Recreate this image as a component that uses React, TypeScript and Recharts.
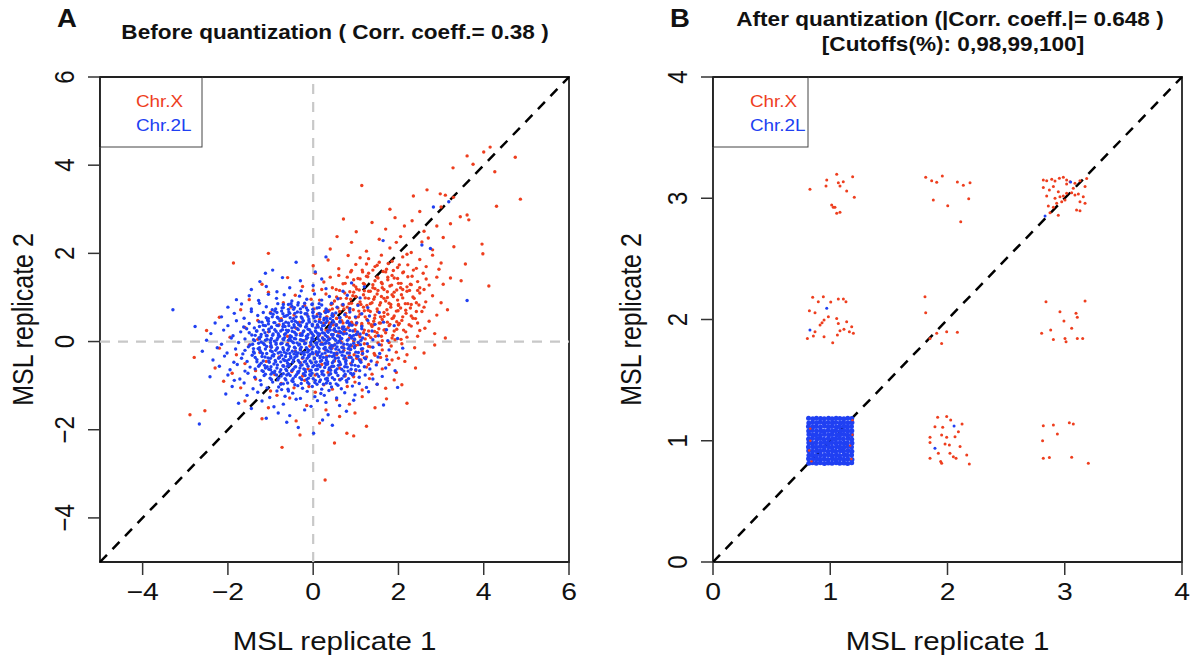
import React from "react";
import {
  ScatterChart,
  Scatter,
  XAxis,
  YAxis,
  ReferenceLine,
  ReferenceArea,
} from "recharts";

const RED = "#EE3E1E";
const BLUE = "#2040F2";
const FONT = '"Liberation Sans", Arial, Helvetica, sans-serif';
// the source figure is stretched sideways, so text is too
const STRETCH = 1.18;

const domainA: [number, number] = [-5, 6];
const ticksA = [-4, -2, 0, 2, 4, 6];
const domainB: [number, number] = [0, 4];
const ticksB = [0, 1, 2, 3, 4];

// Panel A, before quantization: MSL rep1, rep2 as flat x,y pairs
const chrXBefore = [
  -0.73, -2.4, 0.79, -2.08, 0.95, -2.14, -0.31, -2.12, 0.5, -2.3, 0.28, -3.14,
  -2.89, -1.66, -2.54, -1.57, -1.2, -1.75, 0.15, -1.85, 0.62, -1.7, 1.25, -1.92, -0.4, -1.8, 0.98, -1.62,
  -1.6, -1.35, -1.05, -1.5, -0.55, -1.28, -0.15, -1.45, 0.3, -1.55, 0.55, -1.32, 0.85, -1.42, 1.15, -1.25,
  1.45, -1.5, 1.72, -1.3, -0.85, -1.22, 2.2, -1.4,
  -2.1, -0.9, -1.7, -1.05, -1.35, -0.85, -1.0, -1.12, -0.75, -0.95, -0.45, -1.05, -0.2, -0.88, 0.05, -1.15,
  0.25, -0.98, 0.45, -1.08, 0.62, -0.86, 0.8, -1.02, 0.98, -0.92, 1.15, -1.1, 1.32, -0.84, 1.5, -0.97,
  1.7, -1.06, 2.08, -0.98, 1.9, -0.87, -0.1, -1.02,
  -2.3, -0.6, -1.9, -0.72, -1.6, -0.5, -1.35, -0.66, -1.1, -0.45, -0.9, -0.75, -0.7, -0.55, -0.5, -0.68,
  -0.3, -0.48, -0.12, -0.62, 0.05, -0.76, 0.2, -0.52, 0.35, -0.7, 0.5, -0.44, 0.62, -0.6, 0.75, -0.78,
  0.88, -0.5, 1.0, -0.66, 1.12, -0.42, 1.25, -0.58, 1.38, -0.74, 1.5, -0.47, 1.62, -0.62, 1.78, -0.52,
  1.95, -0.7, 2.15, -0.45, 2.4, -0.6, 0.42, -0.58, 0.95, -0.8, 1.3, -0.52, -0.25, -0.78, 1.85, -0.42,
  -2.79, -0.36, -2.2, -0.15, -1.8, -0.3, -1.5, -0.08, -1.25, -0.25, -1.0, -0.12, -0.8, -0.35, -0.6, -0.05,
  -0.42, -0.22, -0.25, -0.38, -0.08, -0.1, 0.08, -0.28, 0.2, -0.04, 0.32, -0.33, 0.44, -0.15, 0.55, -0.26,
  0.66, -0.02, 0.76, -0.38, 0.86, -0.18, 0.96, -0.3, 1.06, -0.07, 1.15, -0.22, 1.25, -0.35, 1.34, -0.12,
  1.43, -0.27, 1.52, -0.03, 1.62, -0.19, 1.72, -0.33, 1.83, -0.1, 1.95, -0.24, 2.08, -0.05, 2.2, -0.3,
  2.38, -0.14, 2.6, -0.26, 2.85, -0.08, 0.5, -0.08, 0.9, -0.1, 1.2, -0.05, 1.58, -0.36, 0.28, -0.18,
  0.72, -0.2, 1.02, -0.38, 1.78, -0.02, 2.0, -0.38, -0.3, -0.18,
  -2.5, 0.25, -1.95, 0.1, -1.6, 0.32, -1.3, 0.05, -1.05, 0.22, -0.8, 0.38, -0.6, 0.12, -0.4, 0.3,
  -0.22, 0.02, -0.05, 0.2, 0.1, 0.36, 0.22, 0.08, 0.34, 0.26, 0.45, 0.14, 0.55, 0.38, 0.64, 0.04,
  0.73, 0.22, 0.82, 0.32, 0.9, 0.1, 0.98, 0.27, 1.06, 0.16, 1.14, 0.37, 1.22, 0.06, 1.3, 0.24,
  1.38, 0.34, 1.46, 0.12, 1.54, 0.29, 1.62, 0.02, 1.7, 0.2, 1.78, 0.36, 1.87, 0.14, 1.96, 0.28,
  2.06, 0.05, 2.17, 0.22, 2.3, 0.35, 2.45, 0.12, 2.62, 0.3, 2.85, 0.18, 3.1, 0.08, 0.4, 0.34,
  0.68, 0.3, 0.95, 0.02, 1.18, 0.2, 1.42, 0.38, 1.66, 0.26, 1.92, 0.04, 2.2, 0.1, 0.15, 0.15,
  -0.3, 0.18, 1.0, 0.38, 1.5, 0.2, 0.6, 0.2, 2.0, 0.38, 2.5, 0.25, 1.3, 0.14,
  -2.2, 0.55, -1.7, 0.72, -1.3, 0.48, -1.0, 0.66, -0.75, 0.52, -0.52, 0.78, -0.32, 0.44, -0.15, 0.62,
  0.02, 0.74, 0.15, 0.5, 0.27, 0.68, 0.38, 0.42, 0.48, 0.6, 0.58, 0.76, 0.67, 0.47, 0.76, 0.64,
  0.85, 0.54, 0.94, 0.72, 1.02, 0.43, 1.1, 0.62, 1.18, 0.78, 1.26, 0.5, 1.34, 0.68, 1.42, 0.46,
  1.5, 0.74, 1.58, 0.56, 1.66, 0.66, 1.74, 0.44, 1.82, 0.78, 1.9, 0.58, 1.99, 0.7, 2.08, 0.48,
  2.18, 0.64, 2.28, 0.76, 2.4, 0.52, 2.55, 0.68, 2.72, 0.46, 2.9, 0.6, 3.15, 0.72, 0.32, 0.56,
  0.72, 0.74, 1.06, 0.56, 1.3, 0.42, 1.62, 0.5, 1.96, 0.45, 2.3, 0.58, 0.55, 0.52, 0.9, 0.44,
  1.45, 0.6, 1.75, 0.62, 2.05, 0.76, 0.1, 0.62, -0.45, 0.6, 1.2, 0.7, 0.8, 0.78, 2.6, 0.78,
  1.85, 0.52, 0.45, 0.74, 1.55, 0.42, 2.45, 0.42,
  -1.5, 0.95, -1.05, 1.12, -0.7, 0.88, -0.42, 1.05, -0.2, 0.82, 0.0, 1.16, 0.15, 0.94, 0.3, 1.08,
  0.42, 0.84, 0.54, 1.18, 0.64, 0.98, 0.74, 1.1, 0.84, 0.86, 0.93, 1.04, 1.02, 1.19, 1.1, 0.9,
  1.18, 1.06, 1.26, 0.82, 1.34, 1.14, 1.42, 0.96, 1.5, 1.08, 1.58, 0.88, 1.66, 1.18, 1.74, 1.0,
  1.82, 0.84, 1.9, 1.12, 1.98, 0.94, 2.07, 1.06, 2.16, 0.86, 2.26, 1.16, 2.37, 0.98, 2.5, 1.1,
  2.64, 0.9, 2.8, 1.04, 3.0, 0.88, 0.5, 0.92, 0.88, 0.96, 1.3, 0.98, 1.7, 0.92, 2.1, 1.18,
  0.2, 1.18, 1.05, 0.84, 1.45, 1.2, 1.85, 1.06, 2.3, 0.84, 0.7, 0.82, 1.2, 1.15, 1.6, 1.02,
  2.0, 0.82, 2.6, 1.18, -0.05, 0.96, 0.95, 1.12, 2.42, 0.88, 1.38, 0.88,
  -1.2, 1.3, -0.6, 1.45, -0.25, 1.25, 0.05, 1.55, 0.25, 1.35, 0.45, 1.22, 0.6, 1.5, 0.75, 1.32,
  0.88, 1.58, 1.0, 1.24, 1.1, 1.42, 1.2, 1.3, 1.3, 1.55, 1.4, 1.22, 1.5, 1.46, 1.6, 1.34,
  1.7, 1.58, 1.8, 1.26, 1.9, 1.44, 2.0, 1.32, 2.1, 1.56, 2.2, 1.24, 2.32, 1.48, 2.45, 1.36,
  2.58, 1.55, 2.72, 1.28, 2.9, 1.46, 3.22, 1.44, 3.47, 1.38, 4.12, 1.26, 0.95, 1.4, 1.45, 1.38,
  1.85, 1.5, 2.28, 1.3, 1.25, 1.48, 2.05, 1.22, 0.4, 1.46, 1.62, 1.22, 2.5, 1.22, 3.05, 1.3,
  1.75, 1.4, 2.65, 1.42,
  -1.87, 1.78, -1.05, 2.0, 0.0, 1.72, 0.35, 1.85, 0.6, 1.65, 0.82, 1.95, 1.0, 1.75, 1.15, 1.62,
  1.3, 1.88, 1.45, 1.7, 1.6, 1.96, 1.72, 1.64, 1.85, 1.82, 1.98, 1.68, 2.1, 1.92, 2.22, 1.74,
  2.35, 1.62, 2.5, 1.86, 2.65, 1.7, 2.8, 1.96, 3.0, 1.78, 3.57, 1.76, 2.2, 1.98, 1.1, 1.9,
  2.95, 1.64, 1.55, 1.8, 2.42, 1.66,
  0.56, 2.38, 0.4, 2.1, 0.9, 2.25, 1.25, 2.05, 1.55, 2.32, 1.8, 2.12, 2.05, 2.38, 2.3, 2.02,
  2.55, 2.26, 2.8, 2.08, 3.05, 2.36, 3.3, 2.15, 3.96, 2.21, 3.98, 1.99, 1.95, 2.25, 2.7, 2.35,
  1.01, 2.49, 0.71, 2.78, 1.38, 2.7, 2.14, 2.62, 1.92, 2.81, 2.32, 2.74, 2.9, 2.62, 3.22, 2.67,
  2.6, 2.5, 1.7, 2.55, 3.45, 2.83,
  3.61, 2.87, 3.65, 2.76, 1.14, 3.54, 2.35, 3.3, 2.67, 3.44, 2.98, 3.35, 3.1, 3.32, 3.29, 3.27,
  4.3, 3.07, 4.86, 3.23, 2.5, 2.95, 3.0, 3.05, 1.8, 3.0,
  3.28, 3.94, 3.75, 4.02, 4.26, 3.85, 3.61, 4.21, 4.74, 4.18, 4.15, 4.41, 4.0, 4.3,
  // dense part of the Chr.X cloud
  0.35, 0.1, 0.6, 0.12, 0.85, 0.08, 1.1, 0.11, 1.35, 0.09, 1.6, 0.12, 1.85, 0.08,
  0.3, 0.26, 0.52, 0.23, 0.76, 0.27, 0.98, 0.24, 1.2, 0.26, 1.44, 0.23, 1.68, 0.27, 1.9, 0.24, 2.12, 0.26,
  0.25, 0.41, 0.47, 0.38, 0.7, 0.42, 0.92, 0.39, 1.14, 0.41, 1.36, 0.38, 1.58, 0.42, 1.8, 0.39, 2.02, 0.41, 2.25, 0.38,
  0.32, 0.56, 0.55, 0.53, 0.78, 0.57, 1.0, 0.54, 1.22, 0.56, 1.44, 0.53, 1.66, 0.57, 1.88, 0.54, 2.1, 0.56, 2.34, 0.53,
  0.38, 0.71, 0.62, 0.68, 0.85, 0.72, 1.07, 0.69, 1.29, 0.71, 1.51, 0.68, 1.73, 0.72, 1.95, 0.69, 2.17, 0.71, 2.42, 0.68,
  0.45, 0.86, 0.68, 0.83, 0.9, 0.87, 1.12, 0.84, 1.34, 0.86, 1.56, 0.83, 1.78, 0.87, 2.0, 0.84, 2.22, 0.86, 2.48, 0.83,
  0.55, 1.01, 0.78, 0.98, 1.0, 1.02, 1.22, 0.99, 1.44, 1.01, 1.66, 0.98, 1.88, 1.02, 2.1, 0.99, 2.34, 1.01,
  0.62, 1.16, 0.86, 1.13, 1.08, 1.17, 1.3, 1.14, 1.52, 1.16, 1.74, 1.13, 1.96, 1.17, 2.2, 1.14, 2.45, 1.16,
  0.7, 1.31, 0.95, 1.28, 1.18, 1.32, 1.4, 1.29, 1.62, 1.31, 1.84, 1.28, 2.06, 1.32, 2.3, 1.29,
  0.8, 1.46, 1.05, 1.43, 1.28, 1.47, 1.52, 1.44, 1.75, 1.46, 1.98, 1.43, 2.22, 1.47,
  0.9, 1.61, 1.16, 1.58, 1.4, 1.62, 1.64, 1.59, 1.88, 1.61, 2.12, 1.58,
  1.25, 1.76, 1.5, 1.73, 1.76, 1.77, 2.02, 1.74,
  0.4, -0.1, 0.7, -0.12, 1.0, -0.09, 1.3, -0.11, 1.6, -0.08,
  0.55, -0.3, 0.85, -0.32, 1.15, -0.29, 1.45, -0.31,
];

const chr2LBefore = [
  -0.62, -1.83, 0.01, -2.08, -0.35, -1.95, 0.22, -1.78, -1.1, -1.74, -2.67, -1.87, 0.45, -1.9,
  -0.82, -1.62, -0.2, -1.55, 0.35, -1.66, -1.45, -1.52, 0.78, -1.58, 1.65, -1.44, -0.55, -1.68,
  -1.2, -1.35, -0.7, -1.42, -0.4, -1.31, -0.05, -1.47, 0.3, -1.38, 0.62, -1.45, -1.75, -1.4, 0.95, -1.33,
  -0.92, -1.48, 0.1, -1.34,
  -1.55, -1.22, -1.3, -1.15, -1.02, -1.27, -0.85, -1.12, -0.66, -1.24, -0.48, -1.17, -0.3, -1.29, -0.14, -1.13,
  0.04, -1.25, 0.18, -1.18, 0.37, -1.11, 0.55, -1.28, 0.74, -1.16, 0.98, -1.21, 1.3, -1.14, -2.05, -1.19,
  -0.58, -1.12, 0.26, -1.22,
  -1.9, -1.02, -1.62, -0.94, -1.41, -1.07, -1.22, -0.98, -1.08, -1.05, -0.95, -0.92, -0.81, -1.03, -0.7, -0.96,
  -0.59, -1.08, -0.47, -0.91, -0.36, -1.0, -0.25, -1.06, -0.13, -0.93, -0.02, -1.02, 0.09, -0.97, 0.2, -1.08,
  0.31, -0.94, 0.43, -1.03, 0.54, -0.96, 0.66, -1.07, 0.79, -0.92, 0.92, -1.01, 1.08, -0.95, 1.25, -1.04,
  1.5, -0.97, 1.98, -1.04, -0.74, -1.09, 0.15, -0.91,
  -2.42, -0.8, -2.0, -0.76, -1.72, -0.85, -1.53, -0.72, -1.37, -0.81, -1.24, -0.88, -1.12, -0.74, -1.01, -0.83,
  -0.91, -0.71, -0.83, -0.87, -0.75, -0.78, -0.66, -0.84, -0.58, -0.73, -0.5, -0.89, -0.42, -0.79, -0.35, -0.71,
  -0.27, -0.86, -0.19, -0.77, -0.11, -0.83, -0.03, -0.72, 0.05, -0.88, 0.13, -0.79, 0.21, -0.74, 0.29, -0.85,
  0.37, -0.76, 0.45, -0.82, 0.54, -0.71, 0.63, -0.87, 0.72, -0.78, 0.83, -0.84, 0.95, -0.73, 1.08, -0.81,
  1.22, -0.76, 1.4, -0.85, 1.62, -0.79, -0.62, -0.76, -0.08, -0.75, 0.34, -0.89, -1.85, -0.88, 0.88, -0.72,
  -2.2, -0.56, -1.95, -0.64, -1.78, -0.52, -1.6, -0.67, -1.48, -0.58, -1.36, -0.62, -1.26, -0.53, -1.17, -0.68,
  -1.08, -0.57, -1.0, -0.64, -0.92, -0.51, -0.85, -0.6, -0.78, -0.69, -0.71, -0.55, -0.64, -0.63, -0.57, -0.52,
  -0.5, -0.66, -0.43, -0.58, -0.36, -0.69, -0.29, -0.54, -0.22, -0.62, -0.15, -0.51, -0.08, -0.67, -0.01, -0.57,
  0.06, -0.64, 0.13, -0.53, 0.2, -0.68, 0.27, -0.59, 0.34, -0.51, 0.41, -0.65, 0.48, -0.56, 0.56, -0.62,
  0.64, -0.52, 0.72, -0.67, 0.8, -0.58, 0.89, -0.63, 0.98, -0.54, 1.09, -0.66, 1.2, -0.57, 1.33, -0.62,
  1.48, -0.53, 1.7, -0.6, -0.96, -0.7, -0.31, -0.6, 0.09, -0.55, 0.52, -0.69, -0.6, -0.56, -1.12, -0.6,
  0.38, -0.6, -0.18, -0.69, 0.77, -0.51, 1.92, -0.66,
  -2.35, -0.42, -2.08, -0.33, -1.86, -0.47, -1.68, -0.38, -1.55, -0.45, -1.43, -0.31, -1.32, -0.41, -1.22, -0.49,
  -1.13, -0.35, -1.04, -0.44, -0.96, -0.32, -0.88, -0.46, -0.81, -0.38, -0.74, -0.31, -0.67, -0.43, -0.6, -0.49,
  -0.53, -0.34, -0.46, -0.42, -0.39, -0.3, -0.32, -0.47, -0.25, -0.37, -0.18, -0.44, -0.11, -0.32, -0.04, -0.48,
  0.03, -0.39, 0.1, -0.31, 0.17, -0.45, 0.24, -0.36, 0.31, -0.42, 0.38, -0.33, 0.45, -0.48, 0.52, -0.38,
  0.6, -0.44, 0.68, -0.31, 0.76, -0.46, 0.84, -0.36, 0.93, -0.42, 1.02, -0.33, 1.12, -0.47, 1.23, -0.39,
  1.36, -0.44, 1.52, -0.35, 1.73, -0.41, -0.7, -0.4, -0.21, -0.3, 0.07, -0.46, 0.49, -0.32, -1.0, -0.38,
  0.28, -0.49, -0.43, -0.36, 0.72, -0.39, -0.14, -0.38, 1.08, -0.41, -0.57, -0.41, 0.16, -0.37,
  -2.6, -0.22, -2.25, -0.14, -2.02, -0.26, -1.82, -0.17, -1.65, -0.28, -1.52, -0.12, -1.4, -0.23, -1.29, -0.16,
  -1.19, -0.27, -1.09, -0.11, -1.0, -0.21, -0.92, -0.29, -0.84, -0.14, -0.77, -0.24, -0.7, -0.18, -0.63, -0.27,
  -0.56, -0.11, -0.49, -0.22, -0.42, -0.15, -0.35, -0.26, -0.28, -0.13, -0.21, -0.24, -0.14, -0.17, -0.07, -0.29,
  0.0, -0.12, 0.07, -0.23, 0.14, -0.16, 0.21, -0.28, 0.28, -0.13, 0.35, -0.22, 0.42, -0.17, 0.49, -0.27,
  0.56, -0.12, 0.64, -0.24, 0.72, -0.15, 0.8, -0.26, 0.88, -0.18, 0.97, -0.11, 1.06, -0.25, 1.16, -0.16,
  1.27, -0.22, 1.4, -0.13, 1.56, -0.27, 1.78, -0.19, -0.88, -0.2, -0.45, -0.28, -0.1, -0.2, 0.31, -0.19,
  0.6, -0.19, -1.25, -0.2, -0.6, -0.2, 0.1, -0.27, 0.46, -0.1, -0.3, -0.19, 0.85, -0.11, -0.02, -0.25,
  -1.6, -0.2, 2.1, -0.15,
  -2.5, 0.03, -2.15, -0.06, -1.92, 0.08, -1.75, -0.02, -1.6, 0.06, -1.48, -0.08, -1.37, 0.02, -1.27, 0.09,
  -1.17, -0.04, -1.08, 0.05, -0.99, -0.09, -0.91, 0.01, -0.83, 0.08, -0.76, -0.05, -0.69, 0.04, -0.62, -0.07,
  -0.55, 0.07, -0.48, -0.01, -0.41, 0.06, -0.34, -0.08, -0.27, 0.03, -0.2, -0.05, -0.13, 0.09, -0.06, -0.02,
  0.01, 0.05, 0.08, -0.08, 0.15, 0.02, 0.22, 0.08, 0.29, -0.04, 0.36, 0.04, 0.43, -0.09, 0.5, 0.06,
  0.57, -0.03, 0.64, 0.07, 0.72, -0.06, 0.8, 0.03, 0.88, -0.08, 0.97, 0.05, 1.06, -0.02, 1.16, 0.08,
  1.27, -0.05, 1.4, 0.04, 1.55, -0.07, 1.75, 0.02, 1.98, 0.07, -0.87, -0.03, -0.52, 0.02, -0.23, 0.02,
  0.05, -0.03, 0.32, 0.01, 0.61, 0.01, -1.22, -0.01, -0.67, 0.09, -0.03, 0.08, 0.18, -0.06, 0.46, 0.09,
  -0.38, -0.03, 0.9, 0.08, -1.0, 0.03, 0.26, 0.05,
  -2.4, 0.18, -2.1, 0.26, -1.88, 0.13, -1.7, 0.22, -1.56, 0.29, -1.44, 0.15, -1.33, 0.24, -1.23, 0.11,
  -1.13, 0.2, -1.04, 0.28, -0.95, 0.14, -0.87, 0.23, -0.79, 0.12, -0.72, 0.27, -0.65, 0.18, -0.58, 0.25,
  -0.51, 0.11, -0.44, 0.21, -0.37, 0.29, -0.3, 0.14, -0.23, 0.23, -0.16, 0.12, -0.09, 0.27, -0.02, 0.17,
  0.05, 0.24, 0.12, 0.13, 0.19, 0.29, 0.26, 0.19, 0.33, 0.11, 0.4, 0.26, 0.47, 0.16, 0.54, 0.23,
  0.62, 0.12, 0.7, 0.28, 0.78, 0.18, 0.86, 0.25, 0.95, 0.14, 1.04, 0.22, 1.14, 0.29, 1.25, 0.16,
  1.38, 0.24, 1.53, 0.13, 1.72, 0.27, -0.82, 0.18, -0.4, 0.15, -0.05, 0.21, 0.22, 0.2, 0.5, 0.29,
  -1.1, 0.13, -0.6, 0.22, 0.1, 0.19, 0.35, 0.21, 0.66, 0.2, -0.26, 0.18, 0.9, 0.11, -1.5, 0.2,
  -0.12, 0.28, 1.1, 0.17,
  -2.77, 0.34, -2.3, 0.42, -2.0, 0.36, -1.8, 0.47, -1.63, 0.33, -1.5, 0.41, -1.38, 0.31, -1.27, 0.45,
  -1.17, 0.37, -1.07, 0.49, -0.98, 0.32, -0.9, 0.43, -0.82, 0.36, -0.74, 0.48, -0.66, 0.34, -0.58, 0.42,
  -0.5, 0.31, -0.42, 0.46, -0.34, 0.38, -0.26, 0.44, -0.18, 0.33, -0.1, 0.47, -0.02, 0.39, 0.06, 0.31,
  0.14, 0.45, 0.22, 0.36, 0.3, 0.43, 0.38, 0.32, 0.46, 0.48, 0.54, 0.38, 0.63, 0.44, 0.72, 0.33,
  0.81, 0.46, 0.91, 0.37, 1.02, 0.42, 1.14, 0.34, 1.28, 0.48, 1.45, 0.39, 1.65, 0.44, -0.7, 0.4,
  -0.3, 0.35, 0.1, 0.38, 0.42, 0.4, -1.05, 0.4, -0.45, 0.38, 0.25, 0.49, 0.6, 0.31, -0.15, 0.4,
  0.85, 0.41, 1.9, 0.36,
  -3.29, 0.72, -2.15, 0.56, -1.85, 0.64, -1.62, 0.53, -1.45, 0.68, -1.3, 0.59, -1.17, 0.66, -1.05, 0.52,
  -0.94, 0.62, -0.84, 0.55, -0.74, 0.69, -0.64, 0.58, -0.55, 0.64, -0.46, 0.52, -0.37, 0.67, -0.28, 0.56,
  -0.19, 0.63, -0.1, 0.51, -0.01, 0.66, 0.08, 0.57, 0.17, 0.62, 0.26, 0.53, 0.35, 0.68, 0.44, 0.59,
  0.53, 0.65, 0.63, 0.54, 0.74, 0.61, 0.86, 0.67, 0.99, 0.56, 1.14, 0.63, 1.32, 0.58, 1.55, 0.66,
  -0.6, 0.6, 0.0, 0.58, 0.4, 0.52, -0.9, 0.69,
  -2.0, 0.78, -1.68, 0.85, -1.45, 0.74, -1.26, 0.87, -1.1, 0.79, -0.96, 0.72, -0.83, 0.86, -0.7, 0.77,
  -0.58, 0.84, -0.46, 0.73, -0.35, 0.88, -0.24, 0.79, -0.13, 0.71, -0.02, 0.85, 0.09, 0.76, 0.2, 0.83,
  0.31, 0.72, 0.43, 0.87, 0.56, 0.78, 0.7, 0.84, 0.86, 0.75, 1.05, 0.82, 1.28, 0.77, 3.61, 0.93, -0.5, 0.8,
  -1.8, 0.95, -1.5, 1.04, -1.28, 0.93, -1.05, 1.07, -0.86, 0.98, -0.68, 1.06, -0.5, 0.92, -0.32, 1.03,
  -0.15, 0.96, 0.03, 1.08, 0.2, 0.94, 0.38, 1.02, 0.58, 0.97, 0.8, 1.05, 1.1, 0.99,
  -1.45, 1.18, -1.1, 1.25, -0.85, 1.13, -0.55, 1.22, -0.28, 1.15, 0.0, 1.27, 0.3, 1.2, 0.7, 1.14, 1.2, 1.24,
  -1.25, 1.36, -0.72, 1.45, -0.3, 1.38, 0.2, 1.42, 0.9, 1.33,
  -1.12, 1.55, -0.95, 1.62, 0.05, 1.58,
  -0.4, 1.8, 0.3, 1.92, 1.64, 2.29, 2.55, 2.19, 2.75, 2.11, 3.18, 3.17, 2.82, 3.05,
  // dense core of the Chr.2L cloud
  -0.76, -0.97, -0.6, -0.94, -0.43, -0.98, -0.28, -0.95, -0.1, -0.96, 0.04, -0.93, 0.24, -0.97, 0.4, -0.95, 0.58, -0.99,
  -0.98, -0.86, -0.81, -0.83, -0.64, -0.87, -0.47, -0.84, -0.31, -0.82, -0.15, -0.86, 0.0, -0.84, 0.17, -0.87,
  0.33, -0.83, 0.5, -0.86, 0.67, -0.84, 0.78, -0.88,
  -1.15, -0.77, -0.99, -0.74, -0.86, -0.76, -0.7, -0.73, -0.54, -0.77, -0.39, -0.75, -0.23, -0.73, -0.06, -0.77,
  0.09, -0.74, 0.25, -0.76, 0.41, -0.73, 0.58, -0.77, 0.75, -0.74, 0.92, -0.76,
  -1.2, -0.66, -1.04, -0.63, -0.9, -0.67, -0.76, -0.64, -0.62, -0.66, -0.47, -0.63, -0.33, -0.67, -0.19, -0.64,
  -0.05, -0.65, 0.1, -0.63, 0.23, -0.67, 0.37, -0.64, 0.52, -0.66, 0.67, -0.63, 0.82, -0.67, 1.0, -0.64,
  -1.28, -0.56, -1.14, -0.54, -0.99, -0.57, -0.84, -0.53, -0.69, -0.56, -0.55, -0.54, -0.41, -0.57, -0.26, -0.53,
  -0.12, -0.56, 0.02, -0.54, 0.16, -0.57, 0.3, -0.53, 0.44, -0.56, 0.59, -0.54, 0.74, -0.57, 0.9, -0.53, 1.06, -0.56,
  -1.32, -0.46, -1.17, -0.44, -1.03, -0.47, -0.89, -0.43, -0.76, -0.46, -0.62, -0.44, -0.48, -0.47, -0.35, -0.43,
  -0.21, -0.46, -0.07, -0.44, 0.06, -0.47, 0.2, -0.43, 0.34, -0.46, 0.48, -0.44, 0.62, -0.47, 0.77, -0.43,
  0.92, -0.46, 1.1, -0.44,
  -1.36, -0.36, -1.2, -0.34, -1.06, -0.37, -0.93, -0.33, -0.79, -0.36, -0.65, -0.34, -0.52, -0.37, -0.38, -0.33,
  -0.24, -0.36, -0.1, -0.34, 0.03, -0.37, 0.17, -0.33, 0.31, -0.36, 0.45, -0.34, 0.59, -0.37, 0.74, -0.33,
  0.89, -0.36, 1.05, -0.34, 1.2, -0.37,
  -1.38, -0.26, -1.23, -0.24, -1.09, -0.27, -0.96, -0.23, -0.82, -0.26, -0.68, -0.24, -0.55, -0.27, -0.41, -0.23,
  -0.27, -0.26, -0.13, -0.24, 0.0, -0.27, 0.14, -0.23, 0.28, -0.26, 0.42, -0.24, 0.56, -0.27, 0.7, -0.23,
  0.85, -0.26, 1.0, -0.24, 1.16, -0.27,
  -1.4, -0.16, -1.26, -0.14, -1.12, -0.17, -0.98, -0.13, -0.85, -0.16, -0.71, -0.14, -0.58, -0.17, -0.44, -0.13,
  -0.3, -0.16, -0.16, -0.14, -0.03, -0.17, 0.11, -0.13, 0.25, -0.16, 0.39, -0.14, 0.53, -0.17, 0.67, -0.13,
  0.82, -0.16, 0.97, -0.14, 1.13, -0.17,
  -1.42, -0.06, -1.28, -0.04, -1.14, -0.07, -1.0, -0.03, -0.87, -0.06, -0.73, -0.04, -0.6, -0.07, -0.46, -0.03,
  -0.32, -0.06, -0.18, -0.04, -0.05, -0.07, 0.09, -0.03, 0.23, -0.06, 0.37, -0.04, 0.51, -0.07, 0.65, -0.03,
  0.8, -0.06, 0.95, -0.04, 1.11, -0.07,
  -1.4, 0.04, -1.26, 0.06, -1.12, 0.03, -0.98, 0.07, -0.85, 0.04, -0.71, 0.06, -0.58, 0.03, -0.44, 0.07,
  -0.3, 0.04, -0.16, 0.06, -0.03, 0.03, 0.11, 0.07, 0.25, 0.04, 0.39, 0.06, 0.53, 0.03, 0.67, 0.07,
  0.82, 0.04, 0.97, 0.06, 1.12, 0.03,
  -1.36, 0.14, -1.22, 0.16, -1.08, 0.13, -0.94, 0.17, -0.81, 0.14, -0.67, 0.16, -0.54, 0.13, -0.4, 0.17,
  -0.26, 0.14, -0.12, 0.16, 0.01, 0.13, 0.15, 0.17, 0.29, 0.14, 0.43, 0.16, 0.57, 0.13, 0.71, 0.17,
  0.86, 0.14, 1.01, 0.16,
  -1.32, 0.24, -1.17, 0.26, -1.03, 0.23, -0.9, 0.27, -0.76, 0.24, -0.63, 0.26, -0.49, 0.23, -0.35, 0.27,
  -0.22, 0.24, -0.08, 0.26, 0.06, 0.23, 0.2, 0.27, 0.34, 0.24, 0.48, 0.26, 0.62, 0.23, 0.77, 0.27, 0.93, 0.24,
  -1.26, 0.34, -1.12, 0.36, -0.98, 0.33, -0.85, 0.37, -0.71, 0.34, -0.57, 0.36, -0.44, 0.33, -0.3, 0.37,
  -0.16, 0.34, -0.02, 0.36, 0.12, 0.33, 0.26, 0.37, 0.4, 0.34, 0.54, 0.36, 0.69, 0.33, 0.85, 0.37,
  -1.2, 0.44, -1.05, 0.46, -0.92, 0.43, -0.78, 0.47, -0.64, 0.44, -0.5, 0.46, -0.37, 0.43, -0.23, 0.47,
  -0.09, 0.44, 0.05, 0.46, 0.19, 0.43, 0.33, 0.47, 0.48, 0.44, 0.63, 0.46, 0.79, 0.43,
  -1.1, 0.54, -0.96, 0.56, -0.82, 0.53, -0.68, 0.57, -0.54, 0.54, -0.4, 0.56, -0.26, 0.53, -0.12, 0.57,
  0.02, 0.54, 0.16, 0.56, 0.31, 0.53, 0.46, 0.57, 0.62, 0.54,
  -1.0, 0.64, -0.85, 0.66, -0.71, 0.63, -0.57, 0.67, -0.43, 0.64, -0.29, 0.66, -0.15, 0.63, 0.0, 0.67,
  0.14, 0.64, 0.29, 0.66, 0.45, 0.63,
  -0.88, 0.74, -0.73, 0.76, -0.58, 0.73, -0.44, 0.77, -0.3, 0.74, -0.16, 0.76, -0.01, 0.73, 0.14, 0.77, 0.3, 0.74,
  -0.7, 0.84, -0.52, 0.86, -0.36, 0.83, -0.2, 0.87, -0.03, 0.84, 0.14, 0.86,
];

// Panel B, after quantization (levels 1..3 with jitter)
const chrXAfter = [
  // level 1 / 3
  0.827, 3.074, 0.97, 3.15, 1.055, 3.197, 1.069, 3.128, 1.111, 3.137, 1.14, 3.06, 1.191, 3.178, 1.205, 3.008,
  0.964, 3.101, 1.083, 3.101, 1.012, 2.944, 1.04, 2.925, 1.055, 2.876, 1.083, 2.884, 1.026, 2.925,
  // level 2 / 3
  1.814, 3.173, 1.865, 3.145, 1.908, 3.131, 1.956, 3.183, 2.084, 3.134, 2.135, 3.107, 2.192, 3.128,
  1.879, 2.986, 2.002, 2.939, 2.181, 2.996, 2.113, 2.807,
  // level 3 / 3
  2.817, 3.151, 2.846, 3.145, 2.889, 3.156, 2.917, 3.142, 2.954, 3.164, 2.988, 3.173, 3.016, 3.151,
  3.045, 3.137, 3.087, 3.123, 3.13, 3.145, 3.187, 3.162, 3.173, 3.096, 2.817, 3.088, 2.869, 3.068,
  2.903, 3.096, 2.945, 3.054, 2.959, 3.013, 2.988, 3.018, 3.002, 2.985, 2.974, 2.971, 3.016, 3.041,
  3.059, 3.046, 3.087, 3.027, 3.116, 3.035, 3.158, 3.013, 3.13, 2.971, 3.173, 2.958, 3.101, 2.903,
  3.13, 2.897, 2.931, 2.958, 2.903, 2.925, 2.86, 2.936, 2.874, 2.881, 2.945, 2.859, 3.016, 3.118,
  3.073, 3.082, 2.917, 2.999, 2.846, 3.018,
  // level 1 / 2
  0.85, 2.183, 0.941, 2.188, 1.069, 2.169, 1.112, 2.169, 0.822, 2.073, 0.87, 2.056, 1.004, 2.144,
  0.947, 1.996, 0.984, 2.023, 0.93, 1.974, 1.055, 2.009, 1.069, 1.968, 1.14, 1.982, 1.183, 1.941,
  0.87, 1.899, 0.856, 1.864, 0.805, 1.844, 0.947, 1.858, 1.021, 1.808, 1.061, 1.872, 1.083, 1.908,
  1.117, 1.919, 1.163, 1.899, 1.197, 1.886, 0.913, 1.954, 1.134, 2.147, 0.898, 2.147,
  // level 2 / 2
  1.808, 2.188, 1.814, 2.056, 1.908, 1.886, 1.993, 1.899, 2.084, 1.894, 1.95, 1.803, 1.851, 1.844,
  // level 3 / 2
  2.84, 2.147, 3.173, 2.152, 2.959, 2.064, 3.096, 2.051, 3.107, 2.018, 2.993, 1.988, 3.059, 1.927,
  2.803, 1.886, 2.88, 1.913, 2.903, 1.836, 3.002, 1.844, 3.011, 1.817, 3.107, 1.844, 3.153, 1.844,
  // level 2 / 1
  1.916, 1.193, 1.993, 1.199, 2.027, 1.171, 1.893, 1.116, 1.959, 1.111, 2.124, 1.138, 2.093, 1.075,
  1.851, 1.028, 1.95, 1.047, 1.993, 1.028, 2.064, 1.034, 1.851, 0.985, 1.979, 0.974, 2.016, 0.965,
  1.922, 0.897, 1.942, 0.828, 2.021, 0.897, 2.05, 0.869, 2.073, 0.855, 2.164, 0.883, 2.186, 0.808,
  1.95, 0.814, 1.851, 0.855, 2.107, 0.952,
  // level 3 / 1
  2.817, 1.124, 2.903, 1.13, 2.937, 1.056, 3.039, 1.149, 3.073, 1.138, 2.811, 1.001, 2.817, 0.855,
  2.869, 0.861, 3.059, 0.863, 3.201, 0.814,
];

const chrXAfterInBlock = [
  0.82, 0.92, 0.83, 1.1, 1.19, 1.05, 1.18, 0.85, 0.84, 0.83, 1.19, 1.17, 0.83, 1.0, 1.17, 0.96,
];

// level 1 / 1 holds nearly all Chr.2L points
const chr2LAfterBlock = [
  0.817, 0.815, 0.848, 0.819, 0.881, 0.814, 0.915, 0.818, 0.95, 0.813, 0.983, 0.817, 1.015, 0.815, 1.05, 0.819, 1.081, 0.814, 1.117, 0.816, 1.148, 0.813, 1.183, 0.818,
  0.815, 0.851, 0.85, 0.847, 0.883, 0.852, 0.914, 0.848, 0.948, 0.85, 0.981, 0.846, 1.017, 0.851, 1.048, 0.847, 1.083, 0.852, 1.115, 0.848, 1.15, 0.85, 1.185, 0.846,
  0.818, 0.88, 0.847, 0.884, 0.88, 0.879, 0.917, 0.883, 0.951, 0.881, 0.984, 0.885, 1.014, 0.88, 1.051, 0.883, 1.08, 0.879, 1.118, 0.884, 1.147, 0.881, 1.182, 0.883,
  0.816, 0.917, 0.849, 0.913, 0.884, 0.918, 0.913, 0.915, 0.947, 0.919, 0.982, 0.914, 1.018, 0.917, 1.047, 0.913, 1.084, 0.918, 1.114, 0.915, 1.151, 0.917, 1.184, 0.914,
  0.814, 0.948, 0.851, 0.951, 0.882, 0.947, 0.916, 0.952, 0.949, 0.948, 0.985, 0.95, 1.016, 0.947, 1.052, 0.951, 1.082, 0.949, 1.116, 0.946, 1.149, 0.952, 1.181, 0.948,
  0.817, 0.984, 0.846, 0.98, 0.879, 0.983, 0.918, 0.981, 0.952, 0.985, 0.98, 0.979, 1.013, 0.983, 1.049, 0.981, 1.085, 0.984, 1.119, 0.98, 1.146, 0.983, 1.185, 0.982,
  0.815, 1.014, 0.848, 1.018, 0.885, 1.015, 0.914, 1.019, 0.946, 1.013, 0.983, 1.017, 1.019, 1.016, 1.046, 1.014, 1.079, 1.018, 1.113, 1.015, 1.152, 1.019, 1.183, 1.013,
  0.818, 1.051, 0.852, 1.047, 0.881, 1.05, 0.915, 1.046, 0.95, 1.052, 0.986, 1.048, 1.015, 1.051, 1.053, 1.047, 1.083, 1.05, 1.117, 1.052, 1.148, 1.046, 1.182, 1.05,
  0.816, 1.08, 0.847, 1.084, 0.883, 1.081, 0.919, 1.083, 0.948, 1.079, 0.981, 1.085, 1.017, 1.08, 1.048, 1.083, 1.086, 1.081, 1.115, 1.084, 1.15, 1.08, 1.184, 1.082,
  0.814, 1.117, 0.85, 1.113, 0.88, 1.118, 0.916, 1.114, 0.951, 1.119, 0.984, 1.115, 1.014, 1.117, 1.051, 1.113, 1.08, 1.116, 1.118, 1.119, 1.147, 1.114, 1.181, 1.117,
  0.817, 1.147, 0.849, 1.151, 0.884, 1.148, 0.913, 1.152, 0.947, 1.146, 0.982, 1.15, 1.018, 1.148, 1.047, 1.151, 1.084, 1.147, 1.114, 1.15, 1.151, 1.148, 1.185, 1.151,
  0.815, 1.185, 0.851, 1.182, 0.882, 1.186, 0.917, 1.183, 0.949, 1.181, 0.985, 1.185, 1.016, 1.182, 1.05, 1.186, 1.082, 1.183, 1.116, 1.181, 1.149, 1.185, 1.183, 1.184,
];

const chr2LAfterStray = [
  0.97, 2.092, 0.827, 1.913, 2.056, 1.122, 1.893, 0.938, 3.05, 3.134, 2.832, 2.853,
];

const toPoints = (flat: number[]) => {
  const out: { x: number; y: number }[] = [];
  for (let i = 0; i + 1 < flat.length; i += 2) out.push({ x: flat[i], y: flat[i + 1] });
  return out;
};

const fmt = (v: number) => (v < 0 ? "\u2212" + Math.abs(v) : String(v));

const XTick = (props: any) => (
  <g transform={`translate(${props.x},${props.y + 25}) scale(${STRETCH},1)`}>
    <text textAnchor="middle" fontSize={24} fontFamily={FONT} fill="#111">
      {fmt(props.payload.value)}
    </text>
  </g>
);

const YTick = (props: any) => (
  <g transform={`translate(${props.x - 14},${props.y}) scale(${STRETCH},1) rotate(-90)`}>
    <text textAnchor="middle" fontSize={24} fontFamily={FONT} fill="#111">
      {fmt(props.payload.value)}
    </text>
  </g>
);

const dot = (fill: string, r: number) => (p: any) =>
  <circle cx={p.cx} cy={p.cy} r={r} fill={fill} />;

const diagonal = (d: [number, number]) => [
  { x: d[0], y: d[0] },
  { x: d[1], y: d[1] },
];

const axisCommon = {
  type: "number" as const,
  allowDataOverflow: true,
  axisLine: false,
  tickMargin: 0,
  interval: 0 as const,
  tickLine: { stroke: "#333", strokeWidth: 1.5 },
};

const Stretched = ({ x, y, size, bold, anchor, color, rotate, sx, children }: any) => (
  <g transform={`translate(${x},${y}) scale(${sx || STRETCH},1)${rotate ? " rotate(-90)" : ""}`}>
    <text
      textAnchor={anchor || "middle"}
      fontSize={size}
      fontWeight={bold ? "bold" : "normal"}
      fontFamily={FONT}
      fill={color || "#111"}
    >
      {children}
    </text>
  </g>
);

export default function App() {
  const ptsXBefore = toPoints(chrXBefore);
  const pts2LBefore = toPoints(chr2LBefore);
  const ptsXAfter = toPoints(chrXAfter);
  const ptsXAfterBlock = toPoints(chrXAfterInBlock);
  const pts2LBlock = toPoints(chr2LAfterBlock);
  const pts2LStray = toPoints(chr2LAfterStray);

  return (
    <div style={{ position: "absolute", left: 0, top: 0, width: 1200, height: 662, background: "#fff" }}>
      <div style={{ position: "absolute", left: 0, top: 0 }}>
        <ScatterChart width={600} height={662} margin={{ top: 77, right: 31, bottom: 40, left: 40 }}>
          <XAxis {...axisCommon} dataKey="x" domain={domainA} ticks={ticksA} height={60} tickSize={13} tick={<XTick />} />
          <YAxis {...axisCommon} dataKey="y" domain={domainA} ticks={ticksA} width={60} tickSize={12} tick={<YTick />} />
          <ReferenceLine x={0} stroke="#C8C8C8" strokeWidth={2.2} strokeDasharray="10 8" />
          <ReferenceLine y={0} stroke="#C8C8C8" strokeWidth={2.2} strokeDasharray="10 8" />
          <Scatter data={ptsXBefore} shape={dot(RED, 1.7)} isAnimationActive={false} />
          <Scatter data={pts2LBefore} shape={dot(BLUE, 1.7)} isAnimationActive={false} />
          <ReferenceLine segment={diagonal(domainA)} stroke="#000" strokeWidth={2.5} strokeDasharray="10 8" />
          <ReferenceArea x1={domainA[0]} x2={domainA[1]} y1={domainA[0]} y2={domainA[1]} fill="none" fillOpacity={0} stroke="#222" strokeWidth={1.8} />
        </ScatterChart>
      </div>

      <div style={{ position: "absolute", left: 600, top: 0 }}>
        <ScatterChart width={600} height={662} margin={{ top: 77, right: 18, bottom: 40, left: 53 }}>
          <XAxis {...axisCommon} dataKey="x" domain={domainB} ticks={ticksB} height={60} tickSize={13} tick={<XTick />} />
          <YAxis {...axisCommon} dataKey="y" domain={domainB} ticks={ticksB} width={60} tickSize={12} tick={<YTick />} />
          <Scatter data={pts2LBlock} shape={dot(BLUE, 2.5)} isAnimationActive={false} />
          <Scatter data={ptsXAfter} shape={dot(RED, 1.5)} isAnimationActive={false} />
          <Scatter data={ptsXAfterBlock} shape={dot(RED, 1.2)} isAnimationActive={false} />
          <Scatter data={pts2LStray} shape={dot(BLUE, 1.5)} isAnimationActive={false} />
          <ReferenceLine segment={diagonal(domainB)} stroke="#000" strokeWidth={2.5} strokeDasharray="10 8" />
          <ReferenceArea x1={domainB[0]} x2={domainB[1]} y1={domainB[0]} y2={domainB[1]} fill="none" fillOpacity={0} stroke="#222" strokeWidth={1.8} />
        </ScatterChart>
      </div>

      <svg width={1200} height={662} style={{ position: "absolute", left: 0, top: 0, pointerEvents: "none" }}>
        {/* panel letters and titles */}
        <Stretched x={57} y={27} size={25} bold anchor="start" sx={1.1}>A</Stretched>
        <Stretched x={335} y={39} size={20} bold sx={1.13}>Before quantization ( Corr. coeff.= 0.38 )</Stretched>
        <Stretched x={670} y={27} size={25} bold anchor="start" sx={1.1}>B</Stretched>
        <Stretched x={950} y={26} size={20} bold sx={1.13}>After quantization (|Corr. coeff.|= 0.648 )</Stretched>
        <Stretched x={953} y={51} size={20} bold sx={1.13}>[Cutoffs(%): 0,98,99,100]</Stretched>

        {/* axis titles */}
        <Stretched x={334.5} y={650} size={25}>MSL replicate 1</Stretched>
        <Stretched x={947.5} y={650} size={25}>MSL replicate 1</Stretched>
        <Stretched x={33} y={319.5} size={25} rotate>MSL replicate 2</Stretched>
        <Stretched x={641} y={319.5} size={25} rotate>MSL replicate 2</Stretched>

        {/* legends */}
        <rect x={100} y={77} width={102} height={70} fill="#fff" stroke="#444" strokeWidth={1} />
        <Stretched x={136} y={106.7} size={16} anchor="start" color={RED}>Chr.X</Stretched>
        <Stretched x={136} y={130.7} size={16} anchor="start" color={BLUE}>Chr.2L</Stretched>
        <rect x={713} y={77} width={95} height={70} fill="#fff" stroke="#444" strokeWidth={1} />
        <Stretched x={750} y={106.7} size={16} anchor="start" color={RED}>Chr.X</Stretched>
        <Stretched x={750} y={130.7} size={16} anchor="start" color={BLUE}>Chr.2L</Stretched>

        {/* box edges redrawn over legend boxes */}
        <line x1={100} y1={77} x2={202} y2={77} stroke="#222" strokeWidth={1.8} />
        <line x1={100} y1={77} x2={100} y2={147} stroke="#222" strokeWidth={1.8} />
        <line x1={713} y1={77} x2={808} y2={77} stroke="#222" strokeWidth={1.8} />
        <line x1={713} y1={77} x2={713} y2={147} stroke="#222" strokeWidth={1.8} />
      </svg>
    </div>
  );
}
